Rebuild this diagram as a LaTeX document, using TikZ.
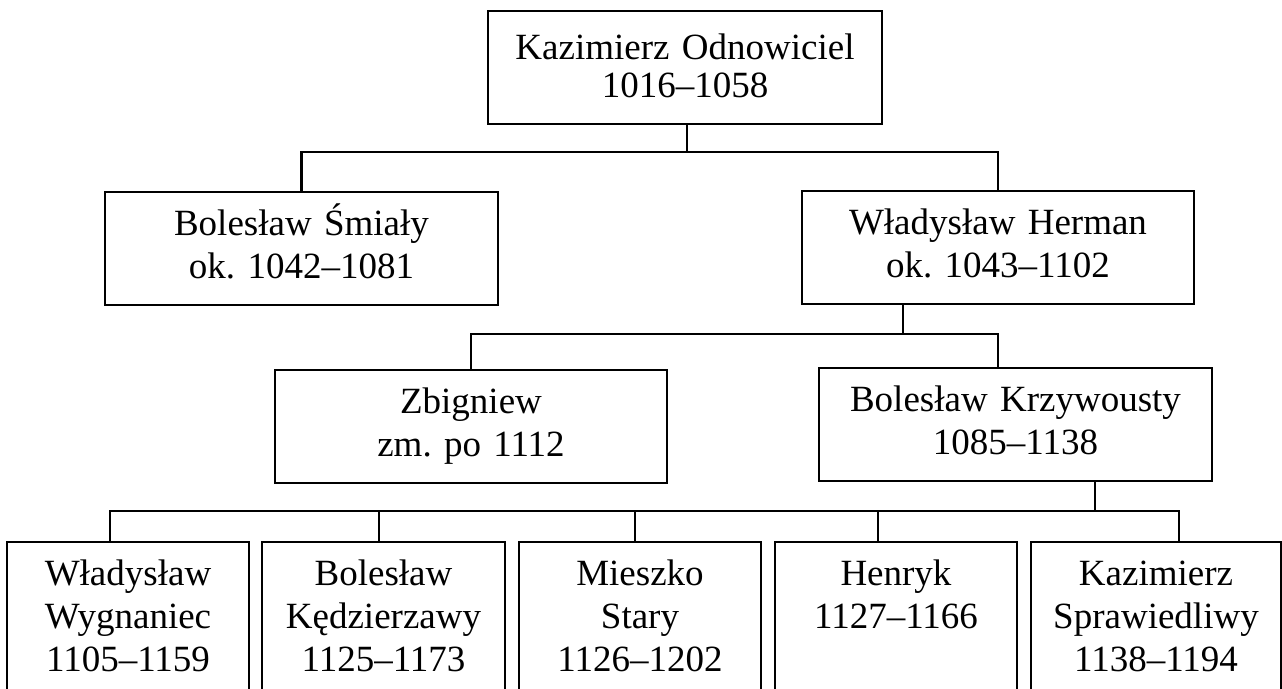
\documentclass[tikz,border=0pt]{standalone}
\usepackage{fontspec}
\setmainfont{Liberation Serif}
\frenchspacing
\begin{document}
\begin{tikzpicture}[x=0.5pt, y=-0.5pt,
    member/.style={draw, line width=1pt, anchor=north, align=center,
      text width=#1, inner xsep=0pt, inner ysep=4pt,
      text height=18pt, text depth=30.5pt,
      font=\fontsize{18.5pt}{21.5pt}\selectfont},
    kid/.style={member=#1, text depth=80pt},
    link/.style={line width=1.4pt}]

    \useasboundingbox (0,0) rectangle (1282,689);

    % pokolenia
    \node[member=197pt, text height=20.5pt, text depth=28pt,
      font=\fontsize{18.5pt}{19pt}\selectfont] (kaz) at (685,10)
      {Kazimierz Odnowiciel\\1016–1058};

    \node[member=196.5pt] (smialy) at (301.5,191) {Bolesław Śmiały\\ok. 1042–1081};
    \node[member=196pt] (herman) at (998,190) {Władysław Herman\\ok. 1043–1102};

    \node[member=196pt] (zbig) at (471,369) {Zbigniew\\zm. po 1112};
    \node[member=196.5pt] (krzy) at (1015.5,367) {Bolesław Krzywousty\\1085–1138};

    \node[kid=121pt] (w1) at (128,541) {Władysław\\Wygnaniec\\1105–1159};
    \node[kid=121.5pt] (w2) at (383.5,541) {Bolesław\\Kędzierzawy\\1125–1173};
    \node[kid=121pt] (w3) at (640,541) {Mieszko\\Stary\\1126–1202};
    \node[kid=121pt] (w4) at (896,541) {Henryk\\1127–1166};
    \node[kid=125pt] (w5) at (1156,541) {Kazimierz\\Sprawiedliwy\\1138–1194};

    % linie
    \coordinate (bar1) at (687,152);
    \draw[link] (kaz.south -| bar1) -- (bar1);
    \draw[link] (smialy.north) |- (bar1) -| (herman.north);

    \coordinate (bar2) at (903,334);
    \draw[link] (herman.south -| bar2) -- (bar2);
    \draw[link] (zbig.north) |- (bar2) -| (krzy.north -| herman.south);

    \coordinate (bar3) at (1095,511);
    \draw[link] (krzy.south -| bar3) -- (bar3);
    \foreach \kid/\sx in {w1/110, w2/379, w3/635, w4/878, w5/1179}
      \draw[link] (\kid.north -| \sx,0) |- (bar3);

\end{tikzpicture}
\end{document}
